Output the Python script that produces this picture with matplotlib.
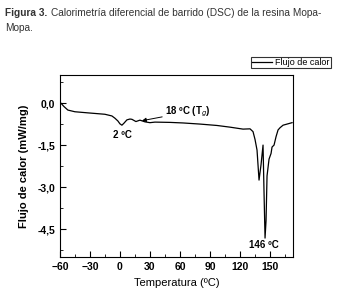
import numpy as np
import matplotlib.pyplot as plt
from matplotlib.ticker import MultipleLocator, FuncFormatter

plt.rcParams['font.family'] = ['Liberation Sans Narrow', 'Liberation Sans', 'DejaVu Sans']

# DSC curve
temp = [-60, -60, -59, -56, -52, -45, -32, -15, -8, -5, -2, 0, 2, 4, 7, 10, 12, 16, 20, 25, 30,
        35, 50, 63, 80, 97, 110, 123, 130, 133, 135, 137, 139, 141, 143, 144, 145, 146,
        147, 149, 151, 152, 154, 156, 158, 160, 163, 168, 172]
flujo = [-2.2, 0.0, 0.0, -0.12, -0.25, -0.31, -0.35, -0.4, -0.46, -0.54, -0.64, -0.74, -0.79,
         -0.72, -0.6, -0.57, -0.58, -0.66, -0.61, -0.67, -0.7,
         -0.68, -0.69, -0.71, -0.75, -0.8, -0.86, -0.93, -0.92, -1.02, -1.3, -1.68, -2.75,
         -2.2, -1.5, -3.2, -4.82, -4.2, -2.6, -2.0, -1.8, -1.57, -1.5, -1.2, -0.96, -0.88,
         -0.79, -0.74, -0.7]

fig = plt.figure(figsize=(3.46, 2.99), dpi=100)
ax = fig.add_axes([0.173, 0.140, 0.674, 0.609])

ax.plot(temp, flujo, color='black', lw=0.9, label='Flujo de calor')

ax.set_xlim(-60, 173)
ax.set_ylim(-5.5, 1.0)
ax.xaxis.set_major_locator(MultipleLocator(30))
ax.xaxis.set_minor_locator(MultipleLocator(15))
ax.yaxis.set_major_locator(MultipleLocator(1.5))
ax.yaxis.set_minor_locator(MultipleLocator(0.75))
ax.yaxis.set_major_formatter(FuncFormatter(lambda v, p: ('%.1f' % v).replace('.', ',')))
ax.tick_params(which='both', direction='in', top=False, right=False, labelsize=7.5)
ax.tick_params(which='major', length=4)
ax.tick_params(which='minor', length=2.5)
for lab in ax.get_xticklabels() + ax.get_yticklabels():
    lab.set_fontweight('bold')

ax.set_xlabel('Temperatura (ºC)', fontsize=8, labelpad=4)
ax.set_ylabel('Flujo de calor (mW/mg)', fontsize=8, fontweight='bold', labelpad=6)

ax.text(3, -1.14, '2 ºC', fontsize=7, fontweight='bold', ha='center', va='center')
ax.annotate(r'18 ºC (T$_g$)', xy=(22, -0.63), xytext=(45, -0.32), fontsize=7,
            fontweight='bold', va='center', ha='left',
            arrowprops=dict(arrowstyle='-|>', color='black', lw=0.7, mutation_scale=6,
                            shrinkA=0, shrinkB=0))
ax.text(144, -5.07, '146 ºC', fontsize=7, fontweight='bold', ha='center', va='center')

leg = ax.legend(loc='center', bbox_to_anchor=(0.99, 1.069), frameon=True, fancybox=False,
                edgecolor='black', fontsize=6.5, handlelength=2.2, handletextpad=0.3,
                borderpad=0.15, borderaxespad=0)
leg.get_frame().set_linewidth(0.8)

t1 = fig.text(0.015, 0.958, 'Figura 3.', fontsize=7.3, fontweight='bold', color='#333333',
              va='center')
fig.canvas.draw()
x1 = fig.transFigure.inverted().transform(t1.get_window_extent().p1)[0]
fig.text(x1 + 0.01, 0.958, 'Calorimetría diferencial de barrido (DSC) de la resina Mopa-',
         fontsize=7.3, color='#333333', va='center')
fig.text(0.015, 0.908, 'Mopa.', fontsize=7.3, color='#333333', va='center')

fig.savefig('out.png', dpi=100)
